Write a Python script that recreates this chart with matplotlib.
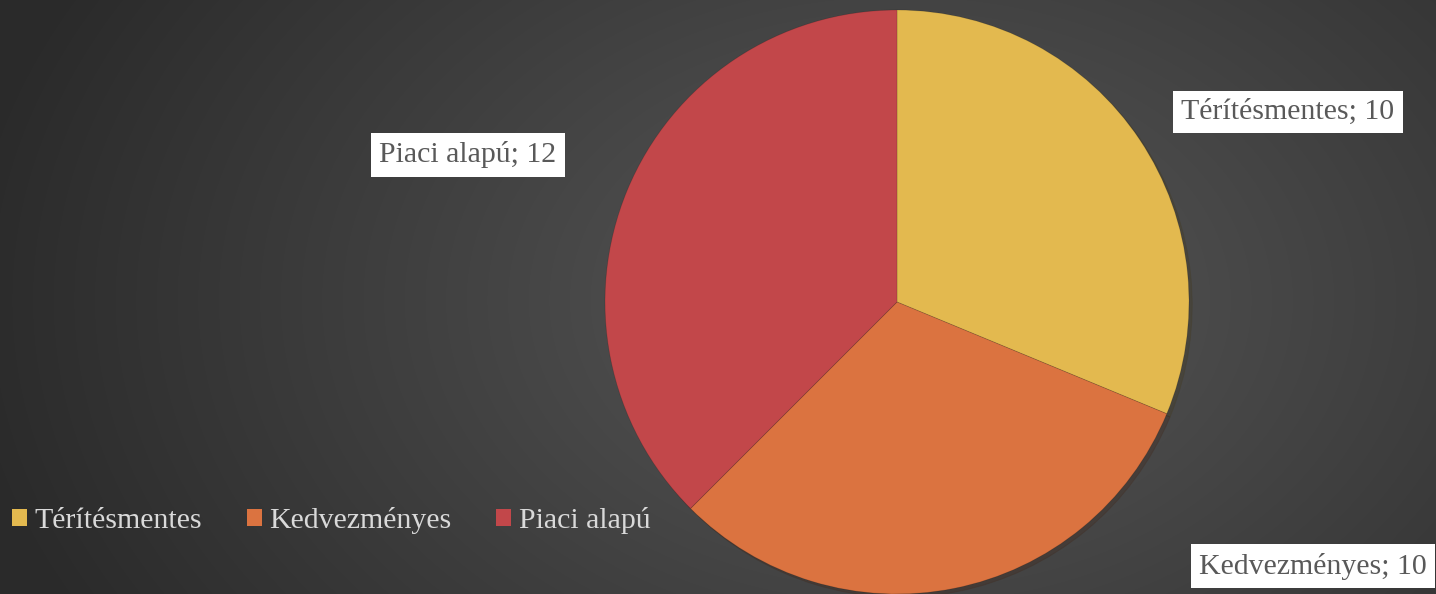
import numpy as np
import matplotlib
matplotlib.use("Agg")
import matplotlib.pyplot as plt
from matplotlib.patches import Patch

categories = ["Térítésmentes", "Kedvezményes", "Piaci alapú"]
values = [10, 10, 12]
colors = ["#E3B94F", "#DB7340", "#C2474A"]

W, H = 1436, 594
fig = plt.figure(figsize=(W / 100, H / 100), dpi=100)

# background radial gradient
bg = fig.add_axes([0, 0, 1, 1])
yy, xx = np.mgrid[0:H, 0:W]
cx, cy = 900, 300
d = np.sqrt(((xx - cx) / 1000.0) ** 2 + ((yy - cy) / 700.0) ** 2)
light, dark = 0x58 / 255, 0x2A / 255
g = light - (light - dark) * np.clip(d / 0.95, 0, 1)
img = np.dstack([g, g, g])
bg.imshow(img, extent=[0, W, H, 0], aspect="auto")
bg.set_xlim(0, W)
bg.set_ylim(H, 0)
bg.axis("off")

# pie
cxp, cyp, r = 897, 302, 292
ax = fig.add_axes([(cxp - r) / W, (H - cyp - r) / H, 2 * r / W, 2 * r / H])
ax.pie(values, colors=colors, startangle=90, counterclock=False,
       wedgeprops=dict(linewidth=0.6, edgecolor=(0, 0, 0, 0.15)),
       shadow=dict(ox=0.008, oy=-0.008, alpha=0.25))
ax.set_aspect("equal")
ax.set_xlim(-1, 1)
ax.set_ylim(-1, 1)
ax.axis("off")

font = ["Liberation Serif", "DejaVu Serif"]
label_pos = [(1288, 112), (1313, 566), (468, 155)]
for cat, v, (px, py) in zip(categories, values, label_pos):
    fig.text(px / W, 1 - py / H, f"{cat}; {v}", family=font, fontsize=21.5,
             color="#595959", ha="center", va="center",
             bbox=dict(boxstyle="square,pad=0.28", fc="white", ec="none"))

handles = [Patch(facecolor=c, edgecolor="none") for c in colors]
leg = fig.legend(handles, categories, loc="center left", ncol=3,
                 bbox_to_anchor=(12 / W, 1 - 521 / H), frameon=False,
                 borderpad=0, borderaxespad=0,
                 prop=dict(family=font, size=21.5), labelcolor="#D9D9D9",
                 handlelength=0.5, handleheight=0.5, handletextpad=0.25,
                 columnspacing=1.5)

fig.savefig("out.png", dpi=100)
